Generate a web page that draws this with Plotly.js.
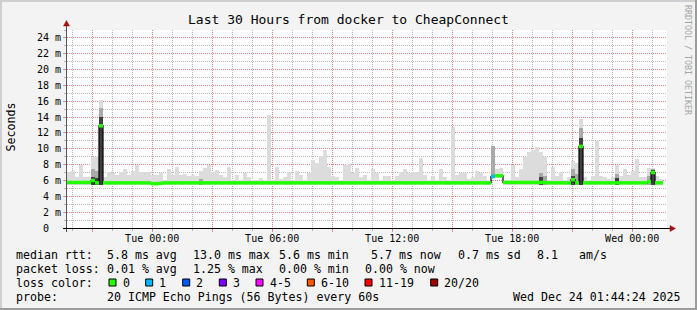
<!DOCTYPE html>
<html><head><meta charset="utf-8">
<script src="https://cdn.plot.ly/plotly-3.0.1.min.js"></script>
<style>html,body{margin:0;padding:0;background:#f3f3f3;overflow:hidden;} #chart{width:697px;height:310px;}</style>
</head><body><div id="chart"></div>
<script>
// ---------------- data ----------------
const binStartUTC = Date.UTC(2025, 11, 22, 19, 44, 24);   // start of the 30 h window
const binMinutes = 12;
const rangeStart = '2025-12-22 19:44:24';
const rangeEnd = '2025-12-24 01:44:24';

// top of the smoke (max of the 20 pings) per 12-minute bin, ms
const smokeMax = [
 7.1, 7.2, 6.4, 8.0, 6.5, 6.4, 9.0, 9.0, 16.1, 6.5,
 7.1, 6.9, 6.7, 7.1, 7.5, 6.75, 7.25, 8.0, 7.1, 7.1,
 7.1, 6.75, 6.75, 7.0, 6.0, 7.4, 6.75, 7.75, 6.75, 6.8,
 6.6, 6.75, 6.6, 7.25, 7.6, 7.9, 7.1, 7.3, 6.75, 6.4,
 7.75, 6.0, 6.75, 6.0, 7.0, 6.5, 6.0, 6.0, 6.3, 6.0,
 14.3, 6.0, 7.75, 6.25, 6.5, 7.1, 6.0, 7.25, 6.75, 6.0,
 6.9, 8.6, 8.25, 9.1, 9.9, 7.75, 6.6, 6.4, 6.0, 7.9,
 8.1, 6.9, 7.6, 6.5, 6.75, 6.0, 7.4, 6.9, 6.0, 6.6,
 6.6, 6.0, 6.6, 7.1, 7.5, 6.9, 7.1, 7.1, 8.9, 6.75,
 6.0, 6.6, 6.0, 7.4, 6.4, 6.0, 12.75, 6.75, 7.0, 7.0,
 6.25, 6.5, 7.25, 7.0, 6.6, 6.0, 10.4, 7.4, 7.6, 6.0,
 6.0, 7.9, 6.4, 7.5, 9.0, 9.6, 9.9, 10.25, 9.6, 9.0,
 6.0, 7.75, 6.6, 7.1, 6.0, 6.5, 8.5, 8.25, 13.75, 6.5,
 6.0, 6.6, 11.0, 6.6, 6.5, 6.25, 6.5, 7.9, 6.6, 7.5,
 6.75, 7.25, 8.75, 6.5, 6.5, 7.6, 7.6, 6.6, 6.25
];
// median rtt per bin, ms
const medianRtt = [
 5.75, 5.75, 5.75, 5.75, 5.75, 5.75, 6.0, 5.7, 12.9, 5.7,
 5.7, 5.7, 5.7, 5.7, 5.7, 5.7, 5.7, 5.7, 5.7, 5.7,
 5.7, 5.6, 5.6, 5.65, 5.7, 5.7, 5.7, 5.7, 5.7, 5.7,
 5.7, 5.7, 5.7, 5.7, 5.7, 5.7, 5.7, 5.7, 5.7, 5.7,
 5.7, 5.7, 5.7, 5.7, 5.7, 5.7, 5.7, 5.7, 5.7, 5.7,
 5.7, 5.7, 5.7, 5.7, 5.7, 5.7, 5.7, 5.7, 5.7, 5.7,
 5.7, 5.7, 5.7, 5.7, 5.7, 5.7, 5.7, 5.7, 5.7, 5.7,
 5.7, 5.7, 5.7, 5.7, 5.7, 5.7, 5.7, 5.7, 5.7, 5.7,
 5.7, 5.7, 5.7, 5.7, 5.7, 5.7, 5.7, 5.7, 5.7, 5.7,
 5.7, 5.7, 5.7, 5.7, 5.7, 5.7, 5.7, 5.7, 5.7, 5.7,
 5.7, 5.7, 5.7, 5.7, 5.7, 5.7, 6.5, 6.6, 6.6, 5.75,
 5.75, 5.75, 5.75, 5.75, 5.75, 5.75, 5.75, 5.75, 5.75, 5.75,
 5.7, 5.7, 5.7, 5.7, 5.7, 5.7, 6.1, 5.7, 10.3, 5.7,
 5.7, 5.7, 5.7, 5.7, 5.7, 5.7, 5.7, 5.7, 5.7, 5.7,
 5.7, 5.7, 5.7, 5.7, 5.7, 5.85, 7.0, 5.7, 5.7
];
const smokeFloor = 5.45;                 // bottom of the smoke (min ping)
const raisedMinIdx = [106, 107, 108];    // bins whose fastest ping was higher
const raisedMinVal = [6.35, 6.35, 6.35];
const midIdx = [6, 7, 8, 33, 106, 118, 119, 126, 127, 128, 137, 145, 146];
const midTop = [7.4, 7.2, 15.1, 6.2, 10.3, 7.0, 6.6, 7.4, 6.8, 12.6, 6.8, 6.6, 7.5];
const darkIdx = [6, 7, 8, 118, 126, 128, 137, 146];
const darkTop = [6.5, 6.3, 14.0, 6.5, 6.6, 11.4, 6.3, 7.3];
const loss1Idx = [106];                  // bins with 1/20 packets lost

const yTickVals = [0, 2, 4, 6, 8, 10, 12, 14, 16, 18, 20, 22, 24];
const yTickText = ['', '2 m', '4 m', '6 m', '8 m', '10 m', '12 m', '14 m', '16 m', '18 m', '20 m', '22 m', '24 m'];
const yZeroLabel = '0';
const xTickVals = ['2025-12-22 21:00', '2025-12-23 00:00', '2025-12-23 03:00', '2025-12-23 06:00', '2025-12-23 09:00',
  '2025-12-23 12:00', '2025-12-23 15:00', '2025-12-23 18:00', '2025-12-23 21:00', '2025-12-24 00:00'];
const xTickText = ['', 'Tue 00:00', '', 'Tue 06:00', '', 'Tue 12:00', '', 'Tue 18:00', '', 'Wed 00:00'];

const titleText = 'Last 30 Hours from docker to CheapConnect';
const rowRtt = ['median rtt:', '5.8 ms avg', '13.0 ms max', '5.6 ms min', '5.7 ms now', '0.7 ms sd', '8.1', 'am/s'];
const rowLoss = ['packet loss:', '0.01 % avg', '1.25 % max', '0.00 % min', '0.00 % now'];
const lossLabels = ['0', '1', '2', '3', '4-5', '6-10', '11-19', '20/20'];
const lossColors = ['#22ff00', '#00b8ff', '#0059ff', '#7e00ff', '#ff00ff', '#ff5500', '#ff0000', '#a10000'];
const rowProbe = ['probe:', '20 ICMP Echo Pings (56 Bytes) every 60s', 'Wed Dec 24 01:44:24 2025'];

// ---------------- build ----------------
const N = smokeMax.length;
const binMs = binMinutes * 60000;
function tstr(ms) { return new Date(ms).toISOString().replace('T', ' ').slice(0, 19); }
const starts = [], centers = [];
for (let i = 0; i < N; i++) { starts.push(tstr(binStartUTC + i * binMs)); centers.push(tstr(binStartUTC + (i + 0.5) * binMs)); }
const mins = smokeMax.map(() => smokeFloor);
raisedMinIdx.forEach((b, k) => { mins[b] = raisedMinVal[k]; });

const traces = [];
traces.push({type: 'bar', x: centers, base: mins, y: smokeMax.map((v, i) => v - mins[i]), width: binMs,
  marker: {color: '#dcdcdc', line: {width: 0}}, hoverinfo: 'skip'});
traces.push({type: 'bar', x: midIdx.map(i => centers[i]), base: midIdx.map(i => mins[i]), y: midIdx.map((i, k) => midTop[k] - mins[i]),
  width: binMs, marker: {color: '#a9a9a9', line: {width: 0}}, hoverinfo: 'skip'});
traces.push({type: 'bar', x: darkIdx.map(i => centers[i]), base: darkIdx.map(i => mins[i]), y: darkIdx.map((i, k) => darkTop[k] - mins[i]),
  width: binMs, marker: {color: '#404040', line: {width: 0}}, hoverinfo: 'skip'});
// median step line (black)
traces.push({type: 'scatter', mode: 'lines', x: starts.concat([tstr(binStartUTC + N * binMs)]), y: medianRtt.concat([medianRtt[N - 1]]),
  line: {shape: 'hv', color: '#000000', width: 1.2}, hoverinfo: 'skip'});
// loss-coloured median band
function band(filterFn, color) {
  const xs = [], ys = [];
  for (let i = 0; i < N; i++) {
    if (!filterFn(i)) continue;
    xs.push(tstr(binStartUTC + i * binMs), tstr(binStartUTC + (i + 1) * binMs), null);
    ys.push(medianRtt[i], medianRtt[i], null);
  }
  return {type: 'scatter', mode: 'lines', x: xs, y: ys, connectgaps: false, line: {color: color, width: 3.5}, hoverinfo: 'skip'};
}
traces.push(band(i => loss1Idx.indexOf(i) < 0, lossColors[0]));
traces.push(band(i => loss1Idx.indexOf(i) >= 0, lossColors[1]));

// pixel helpers for annotations / decorations
const L = 67, T = 30, PW = 600, PH = 198;
const px = x => (x - L) / PW;
const py = y => (T + PH - y) / PH;
const FONT = 'DejaVu Sans Mono, monospace';
const ann = [];
function txt(s, x, y, size, opts) {
  ann.push(Object.assign({text: s, x: px(x), y: py(y), xref: 'paper', yref: 'paper', xanchor: 'left', yanchor: 'middle',
    showarrow: false, borderpad: 0, borderwidth: 0, font: {family: FONT, size: size, color: '#000'}}, opts || {}));
}
const LF = 11.6;
const rttX = [15.5, 106.5, 192.5, 278.5, 371.5, 457.5, 536.5, 578.5];
rowRtt.forEach((s, k) => txt(s, rttX[k], 254.5, LF));
const lossX = [15.5, 106.5, 192.5, 278.5, 364.5];
rowLoss.forEach((s, k) => txt(s, lossX[k], 268.5, LF));
txt('loss color:', 15.5, 282.5, LF);
const boxX = [109, 145.7, 182.7, 219.3, 256, 307.3, 365, 430.7];
const shapes = [];
lossLabels.forEach((s, k) => {
  txt(s, boxX[k] + 13.5, 282.5, LF);
  shapes.push({type: 'rect', xref: 'paper', yref: 'paper', x0: px(boxX[k]), x1: px(boxX[k] + 7), y0: py(286), y1: py(279),
    fillcolor: lossColors[k], line: {color: '#000', width: 1}, layer: 'above'});
});
txt(rowProbe[0], 15.5, 296.5, LF);
txt(rowProbe[1], 106.5, 296.5, LF);
txt(rowProbe[2], 512.5, 296.5, LF);
// zero label on the y axis (rrdtool leaves it unsuffixed, aligned with the digits)
txt(yZeroLabel, 42.5, 228, 10);
// y axis title and vertical watermark
ann.push({text: 'Seconds', x: px(10.5), y: py(127), xref: 'paper', yref: 'paper', xanchor: 'center', yanchor: 'middle',
  textangle: -90, showarrow: false, borderpad: 0, font: {family: FONT, size: LF, color: '#000'}});
ann.push({text: 'RRDTOOL / TOBI OETIKER', x: px(688), y: py(60), xref: 'paper', yref: 'paper', xanchor: 'center', yanchor: 'middle',
  textangle: 90, showarrow: false, borderpad: 0, font: {family: FONT, size: 8.3, color: '#a4a4a4'}});

// axes lines, arrows, frame
function line(x0, y0, x1, y1, color, w) {
  shapes.push({type: 'line', xref: 'paper', yref: 'paper', x0: px(x0), y0: py(y0), x1: px(x1), y1: py(y1), line: {color: color, width: w}, layer: 'above'});
}
function rect(x0, y0, x1, y1, color) {
  shapes.push({type: 'rect', xref: 'paper', yref: 'paper', x0: px(x0), y0: py(y1), x1: px(x1), y1: py(y0), fillcolor: color, line: {width: 0}, layer: 'above'});
}
function tri(pts, color) {
  const d = 'M' + pts.map(p => px(p[0]) + ',' + py(p[1])).join(' L') + ' Z';
  shapes.push({type: 'path', xref: 'paper', yref: 'paper', path: d, fillcolor: color, line: {color: color, width: 0.5}, layer: 'above'});
}
line(66.5, 232, 66.5, 26, '#555555', 1);
line(63, 228.5, 671, 228.5, '#000000', 1);
tri([[63.5, 26], [66.5, 20.5], [69.5, 26]], '#a01010');
tri([[670, 225.5], [675.5, 228.5], [670, 231.5]], '#a01010');
rect(0, 0, 697, 2, '#cfcfcf');
rect(0, 0, 2, 310, '#cfcfcf');
rect(695, 0, 697, 310, '#9c9c9c');
rect(0, 308, 697, 310, '#9c9c9c');

const majorGrid = 'rgba(232,110,110,0.7)';
const minorGrid = 'rgba(140,140,140,0.6)';
const hourMs = 3600000;
const layout = {
  width: 697, height: 310,
  margin: {l: L, r: 697 - L - PW, t: T, b: 310 - T - PH, pad: 0},
  paper_bgcolor: '#f3f3f3', plot_bgcolor: '#ffffff',
  showlegend: false, barmode: 'overlay', bargap: 0,
  font: {family: FONT, color: '#000'},
  title: {text: titleText, x: 0.5, xref: 'container', xanchor: 'center', y: 1 - 19 / 310, yref: 'container', yanchor: 'middle',
    font: {family: FONT, size: 13, color: '#000'}},
  xaxis: {type: 'date', range: [rangeStart, rangeEnd], tickmode: 'array', tickvals: xTickVals, ticktext: xTickText,
    ticks: 'outside', ticklen: 3, tickcolor: majorGrid, tickfont: {family: FONT, size: 10, color: '#000'}, ticklabelstandoff: -2,
    showgrid: true, gridcolor: majorGrid, griddash: '1px,1px', gridwidth: 1, zeroline: false, showline: false,
    minor: {tickmode: 'linear', tick0: '2025-12-22 00:00:00', dtick: hourMs, showgrid: true, gridcolor: minorGrid, griddash: '1px,1px',
      ticks: 'outside', ticklen: 2, tickcolor: minorGrid},
    fixedrange: true},
  yaxis: {range: [0, 25], tickmode: 'array', tickvals: yTickVals, ticktext: yTickText,
    ticks: 'outside', ticklen: 3, tickcolor: majorGrid, tickfont: {family: FONT, size: 10, color: '#000'},
    showgrid: true, gridcolor: majorGrid, griddash: '1px,1px', gridwidth: 1, zeroline: false, showline: false,
    minor: {tickmode: 'linear', tick0: 0, dtick: 1, showgrid: true, gridcolor: minorGrid, griddash: '1px,1px',
      ticks: 'outside', ticklen: 2, tickcolor: minorGrid},
    fixedrange: true},
  annotations: ann, shapes: shapes
};
Plotly.newPlot('chart', traces, layout, {displayModeBar: false, staticPlot: true});
</script></body></html>
